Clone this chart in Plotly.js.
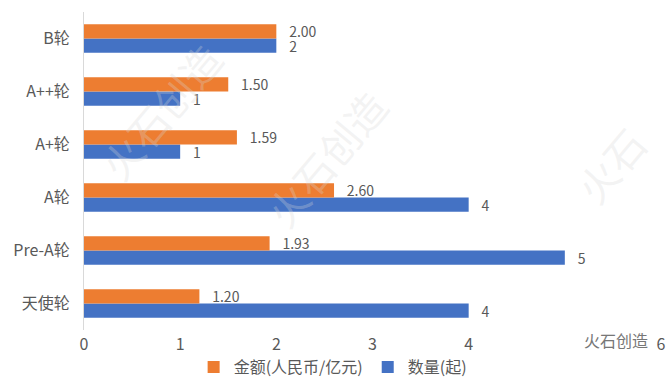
<!DOCTYPE html>
<html><head><meta charset="utf-8">
<script src="https://cdn.plot.ly/plotly-3.0.1.min.js"></script>
<style>html,body{margin:0;padding:0;background:#fff}</style>
</head><body><div id="chart" style="width:672px;height:384px"></div>
<script>
const categories = ["天使轮","Pre-A轮","A轮","A+轮","A++轮","B轮"];
const amountValues = [1.20, 1.93, 2.60, 1.59, 1.50, 2.00];
const countValues = [4, 5, 4, 1, 1, 2];
const amountName = "金额(人民币/亿元)";
const countName = "数量(起)";
const xTicks = [0,1,2,3,4,6];

const font = "'Noto Sans CJK SC', 'Noto Sans', sans-serif";
const pad = "\u2002\u2009";
const traces = [
  {type:"bar", orientation:"h", name:countName, y:categories, x:countValues,
   marker:{color:"#4472C4"}, text:countValues.map(v=>pad+String(v)), textposition:"outside",
   constraintext:"none",
   textfont:{size:14,color:"#595959",family:font}, cliponaxis:false, hoverinfo:"none"},
  {type:"bar", orientation:"h", name:amountName, y:categories, x:amountValues,
   marker:{color:"#ED7D31"}, text:amountValues.map(v=>pad+v.toFixed(2)), textposition:"outside",
   constraintext:"none",
   textfont:{size:14,color:"#595959",family:font}, cliponaxis:false, hoverinfo:"none"}
];
const wm = "rgba(215,215,215,0.3)";
const layout = {
  width:672, height:384,
  margin:{l:84, r:11, t:12, b:54, autoexpand:false},
  paper_bgcolor:"#fff", plot_bgcolor:"rgba(0,0,0,0)",
  font:{family:font, size:16, color:"#595959"},
  barmode:"group", bargap:0.46, bargroupgap:0,
  showlegend:true,
  legend:{orientation:"h", x:0.19, xanchor:"left", yref:"container", y:-0.018, yanchor:"bottom",
          traceorder:"reversed", font:{size:16,color:"#595959"}, itemwidth:30,
          bgcolor:"rgba(0,0,0,0)", tracegroupgap:0},
  xaxis:{range:[0,6], tickvals:xTicks, ticktext:xTicks.map(String), showgrid:false,
         zeroline:false, showline:false, ticks:"", ticklabelstandoff:3,
         tickfont:{size:16,color:"#595959"}},
  yaxis:{type:"category", showgrid:false, zeroline:false, showline:true, linecolor:"#d9d9d9",
         linewidth:1, ticks:"", ticklabelstandoff:10, tickfont:{size:16,color:"#595959"}},
  annotations:[
    {text:"火石创造", xref:"paper", yref:"paper", x:0.0, y:0.95, showarrow:false, textangle:-50,
     font:{size:40,color:wm}},
    {text:"火石创造", xref:"paper", yref:"paper", x:0.42, y:0.8, showarrow:false, textangle:-50,
     font:{size:40,color:wm}},
    {text:"火石", xref:"paper", yref:"paper", x:1.0, y:0.52, showarrow:false, textangle:-50,
     font:{size:40,color:wm}},
    {text:"火石创造", xref:"paper", yref:"paper", x:0.922, xanchor:"center", y:-0.075, showarrow:false,
     bgcolor:"#ffffff", font:{size:16,color:"#777"}}
  ]
};
Plotly.newPlot("chart", traces, layout, {displayModeBar:false, staticPlot:true});
</script></body></html>
